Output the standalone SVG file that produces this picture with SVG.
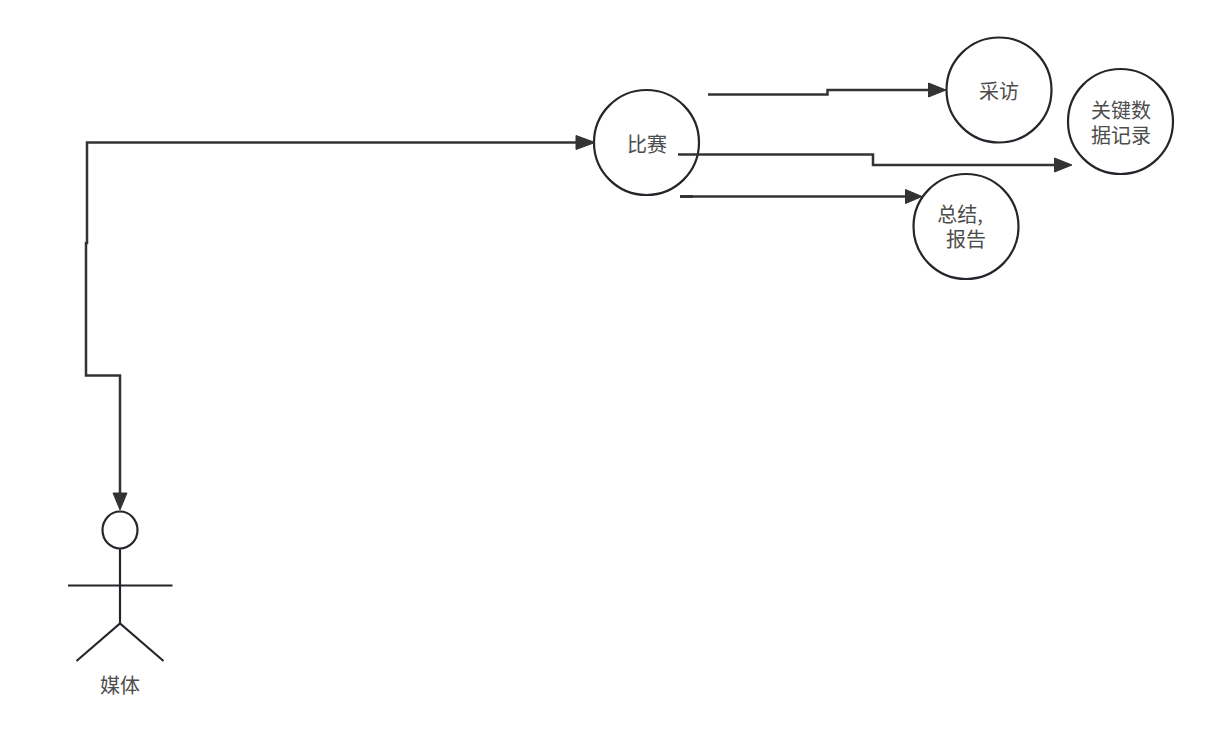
<svg xmlns="http://www.w3.org/2000/svg" width="1210" height="743" viewBox="0 0 1210 743">
<style>
.n{fill:#fff;stroke:#23272b;stroke-width:2.200}
.l{fill:none;stroke:#23272b;stroke-width:2.200}
.c{fill:none;stroke:#333;stroke-width:2.500}
.h{fill:#333;stroke:#333;stroke-width:1}
text{font-family:"Noto Sans CJK SC","Liberation Sans",sans-serif;font-size:20px;fill:#4d4d4d;text-anchor:middle}
</style>
<rect width="1210" height="743" fill="#fff"/>
<g id="actor">
<ellipse class="l" cx="120" cy="530" rx="17.500" ry="18.500"/>
<path class="l" d="M120 549V623M68 585.500H172.500M76.500 661L120 623.500L163.500 661"/>
<text x="120" y="693">媒体</text>
</g>
<g id="match">
<circle class="n" cx="646.500" cy="142.500" r="52.500"/>
<text x="647" y="152">比赛</text>
</g>
<g id="interview">
<circle class="n" cx="999" cy="90" r="52.500"/>
<text x="999" y="99">采访</text>
</g>
<g id="records">
<circle class="n" cx="1120.500" cy="121.500" r="52.500"/>
<text><tspan x="1121" y="118">关键数</tspan><tspan x="1121" y="143">据记录</tspan></text>
</g>
<g id="summary">
<circle class="n" cx="966" cy="226.500" r="52.500"/>
<text><tspan x="960" y="222">总结,</tspan><tspan x="966" y="247">报告</tspan></text>
</g>
<g id="connectors">
<path class="c" d="M580 142.500H87V243H86V375.500H120V495"/>
<path class="h" d="M595 142.500L576 135.500V149.500Z"/>
<path class="h" d="M120 510L113 493H127Z"/>
<path class="c" d="M708 94.500H827.500V90H930"/>
<path class="h" d="M946 90L928.500 83V97Z"/>
<path class="c" d="M678 154.500H873V165H1056"/>
<path class="h" d="M1072 165L1054.500 158V172Z"/>
<path class="c" d="M680 196.500H905"/>
<path class="c" d="M680 196.500H693" style="stroke-width:3"/>
<path class="h" d="M922 196.500L905.500 189.500V203.500Z"/>
</g>
</svg>
